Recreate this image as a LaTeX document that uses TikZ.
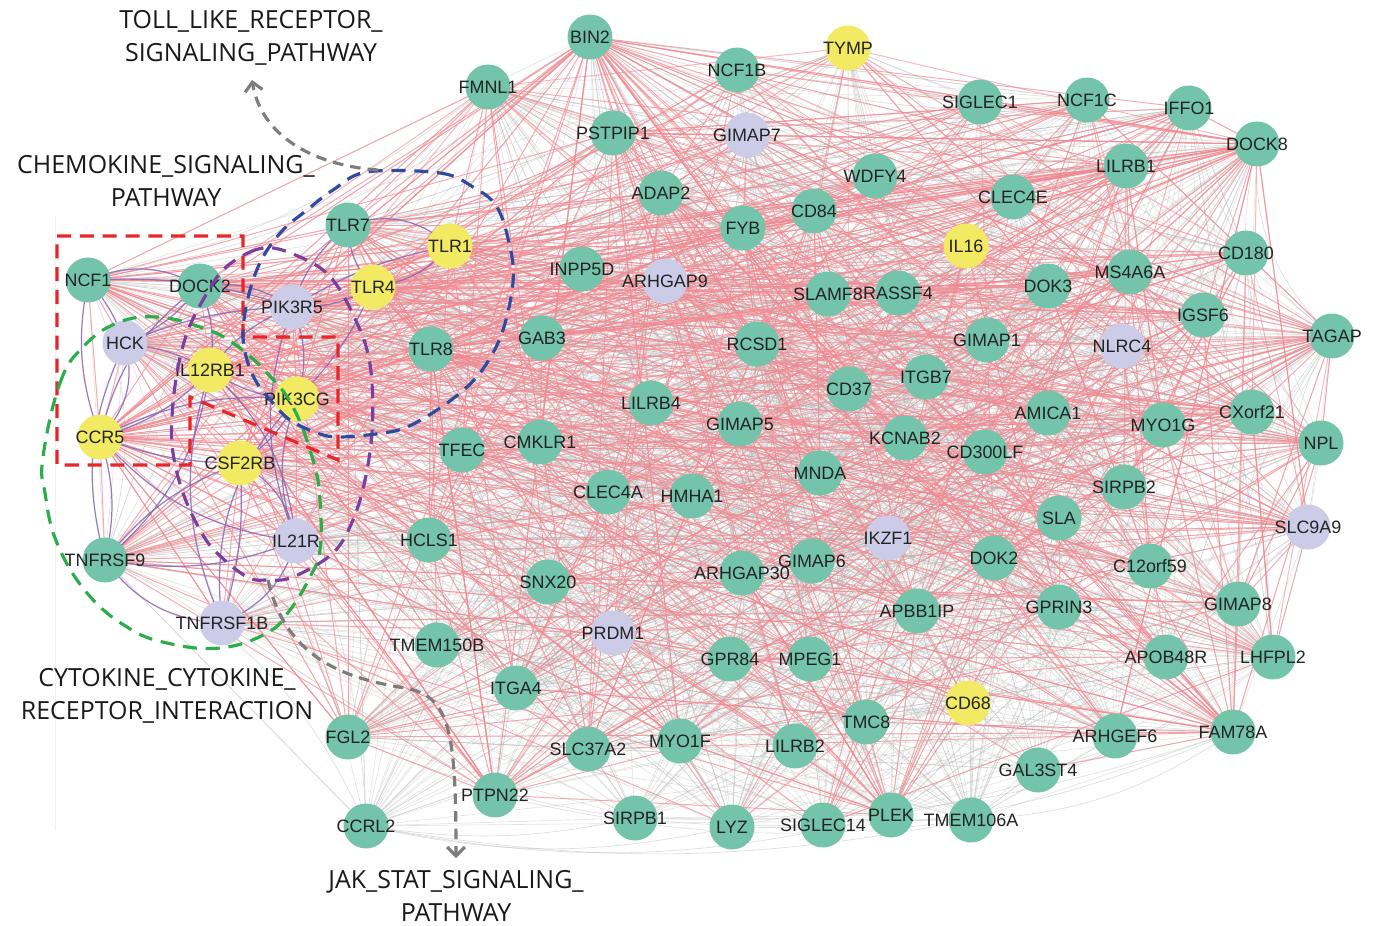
\documentclass[tikz,border=0pt]{standalone}
\usepackage{fontspec}
\setmainfont{Liberation Sans}
\newfontfamily\annfont{Open Sans}
\usetikzlibrary{arrows.meta}
\pgfdeclarelayer{bgg}
\pgfdeclarelayer{bg}
\pgfsetlayers{bgg,bg,main}
\definecolor{gN}{RGB}{115,196,170}
\definecolor{yL}{RGB}{242,234,98}
\definecolor{lV}{RGB}{204,204,232}
\definecolor{labeltext}{RGB}{35,35,35}
\definecolor{gedge}{RGB}{185,185,185}
\definecolor{pedge}{RGB}{242,138,146}
\definecolor{uedge}{RGB}{135,100,180}
\definecolor{dred}{RGB}{232,38,42}
\definecolor{dblue}{RGB}{46,75,160}
\definecolor{dpurple}{RGB}{123,63,160}
\definecolor{dgreen}{RGB}{43,174,74}
\definecolor{dgray}{RGB}{125,125,125}
\definecolor{anntext}{RGB}{25,25,25}
\tikzset{
  gene/.style={circle, minimum size=0.9cm, inner sep=0pt, draw=none},
  lbl/.style={font=\fontsize{10.2}{12}\selectfont, text=labeltext, inner sep=0pt},
  grayedge/.style={draw=gedge, line width=0.35pt, opacity=0.4},
  pinkedge/.style={draw=pedge, line width=0.55pt, opacity=0.72},
  puredge/.style={draw=uedge, line width=0.7pt, opacity=0.85},
  ann/.style={font=\annfont\fontsize{14.2}{18.7}\selectfont, align=center, text=anntext, inner sep=0pt},
  dashbox/.style={line width=1.8pt, dash pattern=on 8pt off 5pt},
  annarrow/.style={draw=dgray, line width=1.8pt, dash pattern=on 6pt off 4pt,
    -{Straight Barb[length=5pt,width=10pt,line width=1.8pt]}},
}
\begin{document}
\begin{tikzpicture}[x=0.02cm,y=-0.02cm]
\useasboundingbox (0,0) rectangle (1377,926);
% genes
\foreach \nm/\x/\y/\c [count=\i] in {
NCF1/88/280/gN, DOCK2/200/286/gN, HCK/125/343/lV, PIK3R5/292/307/lV,
IL12RB1/210/370/yL, PIK3CG/297/399/yL, CCR5/100/437/yL, CSF2RB/240/463/yL,
TNFRSF9/105/560/gN, IL21R/296/541/lV, TNFRSF1B/222/623/lV, TLR7/348/225/gN,
TLR1/450/246/yL, TLR4/373/287/yL, TLR8/431/349/gN, BIN2/590/37/gN,
TYMP/848/48/yL, FMNL1/488/87/gN, NCF1B/737/70/gN, PSTPIP1/613/133/gN,
GIMAP7/747/135/lV, SIGLEC1/980/102/gN, NCF1C/1087/100/gN, IFFO1/1189/108/gN,
DOCK8/1257/144/gN, LILRB1/1126/166/gN, WDFY4/875/176/gN, CLEC4E/1013/197/gN,
ADAP2/661/193/gN, CD84/814/211/gN, FYB/743/228/gN, IL16/966/246/yL,
INPP5D/582/269/gN, ARHGAP9/665/281/lV, SLAMF8/828/294/gN, RASSF4/898/293/gN,
DOK3/1048/286/gN, MS4A6A/1130/272/gN, CD180/1246/253/gN, IGSF6/1203/315/gN,
TAGAP/1332/336/gN, NLRC4/1122/346/lV, GAB3/542/338/gN, RCSD1/757/344/gN,
GIMAP1/987/340/gN, CD37/849/389/gN, ITGB7/926/377/gN, LILRB4/651/403/gN,
AMICA1/1048/413/gN, MYO1G/1163/425/gN, CXorf21/1252/412/gN, NPL/1321/443/gN,
TFEC/462/450/gN, CMKLR1/540/442/gN, GIMAP5/740/424/gN, KCNAB2/905/438/gN,
CD300LF/985/452/gN, MNDA/820/473/gN, CLEC4A/608/492/gN, HMHA1/692/496/gN,
SIRPB2/1124/487/gN, SLA/1059/518/gN, SLC9A9/1308/527/lV, HCLS1/429/540/gN,
IKZF1/888/538/lV, DOK2/994/558/gN, C12orf59/1150/566/gN, SNX20/548/582/gN,
ARHGAP30/742/573/gN, GIMAP6/812/561/gN, APBB1IP/917/611/gN, GPRIN3/1059/607/gN,
GIMAP8/1238/604/gN, PRDM1/613/633/lV, TMEM150B/437/645/gN, GPR84/730/659/gN,
MPEG1/810/659/gN, APOB48R/1166/657/gN, LHFPL2/1273/657/gN, ITGA4/516/688/gN,
CD68/968/703/yL, TMC8/866/722/gN, FGL2/348/737/gN, SLC37A2/588/749/gN,
MYO1F/680/741/gN, LILRB2/795/746/gN, ARHGEF6/1115/736/gN, FAM78A/1233/732/gN,
GAL3ST4/1038/770/gN, PTPN22/495/795/gN, CCRL2/366/826/gN, SIRPB1/635/818/gN,
LYZ/732/827/gN, SIGLEC14/823/825/gN, PLEK/891/815/gN, TMEM106A/971/820/gN}
{
  \node[gene, fill=\c, alias=n\i] (\nm) at (\x,\y) {};
}
% gray background edges
\begin{pgfonlayer}{bgg}
\fill[white] (0,0) rectangle (1377,926);
\draw[gray!12, line width=0.5pt] (55,215) -- (55,830);
\pgfmathsetseed{4242}
\foreach \k in {1,...,1900} {
  \pgfmathrandominteger{\a}{1}{96}
  \pgfmathrandominteger{\b}{1}{96}
  \draw[grayedge] (n\a.center) -- (n\b.center);
}
% outer curved gray edges along the hull
\foreach \p/\q/\bnd in {CCRL2/PLEK/-12, CCRL2/TMEM106A/-10, CCRL2/LYZ/-12,
  PTPN22/TMEM106A/-10, FGL2/SIGLEC14/-12, CCRL2/SIRPB1/-10, SIRPB1/FAM78A/-10,
  LYZ/FAM78A/-12, TMEM106A/FAM78A/-15, PLEK/LHFPL2/-12, GAL3ST4/LHFPL2/-12,
  TAGAP/FAM78A/-20, NPL/LHFPL2/-25, TAGAP/SLC9A9/-25, DOCK8/NPL/-25,
  DOCK8/TAGAP/-25, CD180/LHFPL2/-20, TAGAP/GIMAP8/-20, NPL/FAM78A/-20,
  IFFO1/TAGAP/-20, BIN2/DOCK8/-12, TYMP/DOCK8/-10, BIN2/IFFO1/-10,
  FMNL1/NCF1C/-10, NCF1/BIN2/-15, NCF1/TNFRSF9/20, NCF1/CCRL2/25,
  TNFRSF9/CCRL2/20, CCR5/FGL2/20, NCF1/FMNL1/-12} {
  \draw[grayedge, opacity=0.5] (\p.center) to[bend left=\bnd] (\q.center);
}
\end{pgfonlayer}
% pink edges
\begin{pgfonlayer}{bg}
\pgfmathsetseed{777}
\foreach \h/\m in {BIN2/34, DOCK8/28, TAGAP/20, FAM78A/24, PLEK/24, PTPN22/18,
  CCR5/28, NCF1/18, DOCK2/18, PIK3R5/24, TLR1/16, TLR4/18, TLR7/16, HCK/12,
  IL12RB1/16, CSF2RB/16, FGL2/12, ADAP2/14, PSTPIP1/10, CD84/12, LILRB1/14,
  MS4A6A/12, CXorf21/10, NPL/10, SLC9A9/6, GIMAP8/8, ARHGAP9/14, PIK3CG/16,
  TLR8/10, FMNL1/8, SIGLEC14/6, LYZ/6, SLC37A2/6, CD180/8, IGSF6/8, TNFRSF9/6,
  ITGA4/8, RCSD1/10, FYB/8, APBB1IP/8, MYO1F/8} {
  \foreach \k in {1,...,\m} {
    \pgfmathrandominteger{\b}{1}{90}
    \draw[pinkedge] (\h.center) -- (n\b.center);
  }
}
\foreach \k in {1,...,300} {
  \pgfmathrandominteger{\a}{1}{80}
  \pgfmathrandominteger{\b}{1}{80}
  \draw[pinkedge, opacity=0.6] (n\a.center) -- (n\b.center);
}
% purple edges in the cytokine cluster
\foreach \p/\q/\bnd in {NCF1/DOCK2/25, NCF1/HCK/10, NCF1/CCR5/-15, HCK/CCR5/30,
  HCK/DOCK2/-15, HCK/PIK3R5/10, DOCK2/PIK3R5/20, PIK3R5/PIK3CG/20,
  PIK3R5/IL12RB1/-15, IL12RB1/CCR5/15, CCR5/CSF2RB/-10, CCR5/TNFRSF9/15,
  CCR5/IL21R/-20, CSF2RB/IL21R/25, CSF2RB/TNFRSF1B/10, TNFRSF9/TNFRSF1B/-25,
  TNFRSF9/IL21R/-15, IL21R/PIK3CG/20, IL21R/TNFRSF1B/25, TNFRSF9/IL12RB1/-20,
  TLR7/TLR1/30, TLR7/TLR4/-20, TLR1/TLR4/20, PIK3R5/TLR7/15, PIK3R5/TLR4/-15,
  PIK3CG/CSF2RB/15, IL12RB1/IL21R/20, HCK/TNFRSF9/-20, CCR5/PIK3CG/15,
  NCF1/PIK3R5/10, DOCK2/IL12RB1/15, IL12RB1/PIK3CG/-15, TNFRSF1B/IL12RB1/20,
  TNFRSF9/CSF2RB/15, PIK3R5/IL21R/-20, DOCK2/CCR5/-20, HCK/IL12RB1/10,
  PIK3CG/TNFRSF1B/-25, TLR4/PIK3CG/10, TLR1/PIK3R5/-10} {
  \draw[puredge] (\p.center) to[bend left=\bnd] (\q.center);
}
\end{pgfonlayer}
% labels on top
\foreach \nm in {NCF1, DOCK2, HCK, PIK3R5, IL12RB1, PIK3CG, CCR5, CSF2RB,
TNFRSF9, IL21R, TNFRSF1B, TLR7, TLR1, TLR4, TLR8, BIN2, TYMP, FMNL1, NCF1B,
PSTPIP1, GIMAP7, SIGLEC1, NCF1C, IFFO1, DOCK8, LILRB1, WDFY4, CLEC4E, ADAP2,
CD84, FYB, IL16, INPP5D, ARHGAP9, SLAMF8, RASSF4, DOK3, MS4A6A, CD180, IGSF6,
TAGAP, NLRC4, GAB3, RCSD1, GIMAP1, CD37, ITGB7, LILRB4, AMICA1, MYO1G, CXorf21,
NPL, TFEC, CMKLR1, GIMAP5, KCNAB2, CD300LF, MNDA, CLEC4A, HMHA1, SIRPB2, SLA,
SLC9A9, HCLS1, IKZF1, DOK2, C12orf59, SNX20, ARHGAP30, GIMAP6, APBB1IP, GPRIN3,
GIMAP8, PRDM1, TMEM150B, GPR84, MPEG1, APOB48R, LHFPL2, ITGA4, CD68, TMC8,
FGL2, SLC37A2, MYO1F, LILRB2, ARHGEF6, FAM78A, GAL3ST4, PTPN22, CCRL2, SIRPB1,
LYZ, SIGLEC14, PLEK, TMEM106A} {
  \node[lbl] (lbl-\nm) at (\nm) {\nm};
}
% pathway outlines
\draw[dashbox, draw=dred] (57,236) -- (243,236) -- (243,337) -- (338,337) -- (338,460)
  -- (190,397) -- (190,465) -- (57,465) -- cycle;
\draw[dashbox, draw=dgreen] plot[smooth cycle, tension=0.7] coordinates {
  (43,457) (60,383) (83,347) (117,323) (157,317) (200,327) (233,343) (267,373)
  (293,407) (313,460) (320,500) (320,550) (310,577) (290,610) (267,633) (220,648)
  (167,643) (127,627) (87,593) (57,543) (45,493)};
\draw[dashbox, draw=dpurple] plot[smooth cycle, tension=0.6] coordinates {
  (223,270) (250,252) (273,248) (300,257) (323,270) (340,290) (357,323) (367,350)
  (372,383) (372,433) (365,480) (353,520) (333,553) (293,577) (267,580) (247,577)
  (217,553) (200,530) (183,493) (173,453) (172,417) (177,373) (187,333) (203,300)};
\draw[dashbox, draw=dblue] plot[smooth cycle, tension=0.6] coordinates {
  (367,172) (440,173) (473,187) (497,207) (510,247) (513,283) (503,330) (487,363)
  (467,387) (437,410) (407,427) (383,433) (340,437) (317,433) (290,420) (273,403)
  (257,383) (247,360) (243,330) (250,290) (263,257) (283,230) (307,210) (333,190)};
% annotation arrows
\coordinate (tlrS) at (378,170);
\coordinate (tlrE) at (252,80);
\coordinate (jakS) at (268,580);
\coordinate (jakE) at (456,858);
\draw[annarrow] (tlrS) .. controls (320,166) and (262,140) .. (tlrE);
\draw[annarrow] (jakS) .. controls (285,655) and (340,678) .. (405,688)
  .. controls (450,696) and (456,730) .. (jakE);
% annotation texts
\node[ann] (tlrtxt) at (251,38) {TOLL\_LIKE\_RECEPTOR\_\\SIGNALING\_PATHWAY};
\node[ann] (chemtxt) at (166,181) {CHEMOKINE\_SIGNALING\_\\PATHWAY};
\node[ann] (cyttxt) at (167,696) {CYTOKINE\_CYTOKINE\_\\RECEPTOR\_INTERACTION};
\node[ann] (jaktxt) at (456,896) {JAK\_STAT\_SIGNALING\_\\PATHWAY};
\end{tikzpicture}
\end{document}
